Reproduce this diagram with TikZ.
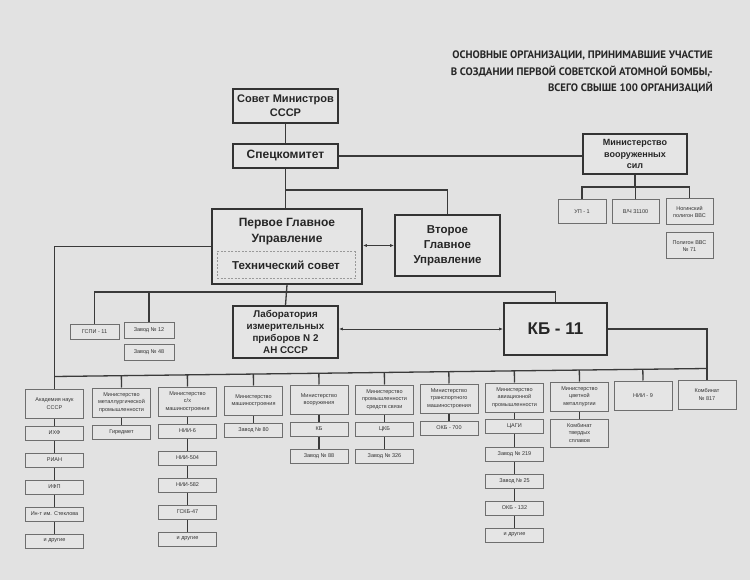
\documentclass[tikz,border=0pt]{standalone}
\usepackage{fontspec}
\setmainfont{Liberation Sans}
\newfontfamily\titlefont{PT Sans}
\usetikzlibrary{arrows.meta,calc}
\definecolor{bg}{HTML}{E2E2E2}
\definecolor{boxfill}{HTML}{E5E5E5}
\definecolor{mainline}{HTML}{333333}
\definecolor{smallline}{HTML}{6E6E6E}
\definecolor{connc}{HTML}{3A3A3A}
\begin{document}
\begin{tikzpicture}[x=1pt,y=-1pt,
  mainbox/.style={draw=mainline, line width=1.6pt, fill=boxfill, align=center, inner sep=0pt, text=black!85},
  smallbox/.style={draw=smallline, line width=1pt, fill=boxfill, align=center, inner sep=0pt,
     font=\fontsize{5.5}{7.5}\selectfont, text=black!80, minimum width=58pt, minimum height=14pt},
  ministry/.style={smallbox, minimum height=29pt},
  conn/.style={draw=connc, line width=1.3pt},
  dbl/.style={draw=connc, line width=0.8pt, {Latex[length=4pt,width=3pt]}-{Latex[length=4pt,width=3pt]}}
]
\fill[bg] (0,0) rectangle (750,580);
\useasboundingbox (0,0) rectangle (750,580);

% title
\node[anchor=north east, align=right, inner sep=0pt, text=black!85,
  font=\titlefont\bfseries\fontsize{10.8}{16.5}\selectfont] (title) at (713,51)
  {ОСНОВНЫЕ ОРГАНИЗАЦИИ, ПРИНИМАВШИЕ УЧАСТИЕ\\В СОЗДАНИИ ПЕРВОЙ СОВЕТСКОЙ АТОМНОЙ БОМБЫ,-\\ВСЕГО СВЫШЕ 100 ОРГАНИЗАЦИЙ};

% top level
\node[mainbox, minimum width=105pt, minimum height=34pt, font=\bfseries\fontsize{11}{14}\selectfont] (sovet) at (285.5,106) {Совет Министров\\СССР};
\node[mainbox, minimum width=105pt, minimum height=24pt, font=\bfseries\fontsize{12}{14}\selectfont] (spec) at (285.5,156) {Спецкомитет};
\node[mainbox, minimum width=150pt, minimum height=75pt] (pgu) at (287,246.5) {};
\node[align=center, inner sep=0pt, text=black!85, font=\bfseries\fontsize{12}{16}\selectfont] (pgutxt) at (287,231.5) {Первое Главное\\Управление};
\node[draw=gray!80, dashed, dash pattern=on 2pt off 1.5pt, line width=1pt, minimum width=138pt, minimum height=27pt, inner sep=0pt, text=black!85,
  font=\bfseries\fontsize{11.5}{14}\selectfont] (tech) at (286,265.5) {Технический совет};
\node[mainbox, minimum width=105pt, minimum height=61pt, font=\bfseries\fontsize{11.5}{15}\selectfont] (vgu) at (447.5,245.5) {Второе\\Главное\\Управление};

% armed forces
\node[mainbox, minimum width=104pt, minimum height=40pt, font=\bfseries\fontsize{9}{11.5}\selectfont] (mvs) at (635,154) {Министерство\\вооруженных\\сил};
\node[smallbox, minimum width=48pt, minimum height=24pt] (up1) at (582,212) {УП - 1};
\node[smallbox, minimum width=47pt, minimum height=24pt] (vch) at (635.5,212) {В/Ч 31100};
\node[smallbox, minimum width=47pt, minimum height=26pt] (nog) at (689.5,212) {Ногинский\\полигон ВВС};
\node[smallbox, minimum width=47pt, minimum height=26pt] (pol) at (689.5,246) {Полигон ВВС\\№ 71};

% middle level
\node[smallbox, minimum width=49pt, minimum height=15pt] (gspi) at (94.5,331.5) {ГСПИ - 11};
\node[smallbox, minimum width=50pt, minimum height=16pt] (z12) at (149,330) {Завод № 12};
\node[smallbox, minimum width=50pt, minimum height=16pt] (z48) at (149,352) {Завод № 48};
\node[mainbox, minimum width=105pt, minimum height=52pt, font=\bfseries\fontsize{9.8}{12}\selectfont] (lab) at (285.5,332) {Лаборатория\\измерительных\\приборов N 2\\АН СССР};
\node[mainbox, minimum width=103pt, minimum height=52pt, font=\bfseries\fontsize{17}{20}\selectfont] (kb11) at (555.5,329) {КБ - 11};

% bottom ministries
\node[ministry] (c1) at (54.5,403.5) {Академия наук\\СССР};
\node[ministry] (c2) at (121.5,402.5) {Министерство\\металлургической\\промышленности};
\node[ministry] (c3) at (187.5,401.5) {Министерство\\с/х\\машиностроения};
\node[ministry] (c4) at (253.5,400.5) {Министерство\\машиностроения};
\node[ministry] (c5) at (319,399.5) {Министерство\\вооружения};
\node[ministry] (c6) at (384.5,399.5) {Министерство\\промышленности\\средств связи};
\node[ministry] (c7) at (449,398.5) {Министерство\\транспортного\\машиностроения};
\node[ministry] (c8) at (514.5,397.5) {Министерство\\авиационной\\промышленности};
\node[ministry] (c9) at (579.5,396.5) {Министерство\\цветной\\металлургии};
\node[ministry] (c10) at (643,395.5) {НИИ - 9};
\node[ministry] (c11) at (707,394.5) {Комбинат\\№ 817};

% sub boxes
\node[smallbox] (c1a) at (54.5,433) {ИХФ};
\node[smallbox] (c1b) at (54.5,460) {РИАН};
\node[smallbox] (c1c) at (54.5,487) {ИФП};
\node[smallbox] (c1d) at (54.5,514) {Ин-т им. Стеклова};
\node[smallbox] (c1e) at (54.5,541) {и другие};
\node[smallbox] (c2a) at (121.5,432) {Гиредмет};
\node[smallbox] (c3a) at (187.5,431) {НИИ-6};
\node[smallbox] (c3b) at (187.5,458) {НИИ-504};
\node[smallbox] (c3c) at (187.5,485) {НИИ-582};
\node[smallbox] (c3d) at (187.5,512) {ГСКБ-47};
\node[smallbox] (c3e) at (187.5,539) {и другие};
\node[smallbox] (c4a) at (253.5,430) {Завод № 80};
\node[smallbox] (c5a) at (319,429) {КБ};
\node[smallbox] (c5b) at (319,456) {Завод № 88};
\node[smallbox] (c6a) at (384.5,429) {ЦКБ};
\node[smallbox] (c6b) at (384.5,456) {Завод № 326};
\node[smallbox] (c7a) at (449,428) {ОКБ - 700};
\node[smallbox] (c8a) at (514.5,426) {ЦАГИ};
\node[smallbox] (c8b) at (514.5,454) {Завод № 219};
\node[smallbox] (c8c) at (514.5,481) {Завод № 25};
\node[smallbox] (c8d) at (514.5,508) {ОКБ - 132};
\node[smallbox] (c8e) at (514.5,535) {и другие};
\node[smallbox, minimum height=28pt] (c9a) at (579.5,433) {Комбинат\\твердых\\сплавов};

% connectors top
\draw[conn] (sovet) -- (spec);
\draw[conn] (spec.south) -- (spec.south |- pgu.north);
\coordinate (br) at (285.5,190);
\draw[conn] (br) -| (vgu.north);
\draw[conn] (spec.east) -- (spec.east -| mvs.west);
\draw[dbl] (pgu.east |- vgu.west) -- (vgu.west);

% armed forces connectors
\coordinate (afbus) at (636,187);
\draw[conn] (mvs.south) -- (mvs.south |- afbus);
\draw[conn] (up1.north) |- (afbus) -| (nog.north);
\draw[conn] (vch.north) -- (vch.north |- afbus);

% middle connectors
\coordinate (mbus) at (286,292);
\draw[conn] (pgu.south) -- (lab.north);
\draw[conn] (gspi.north) |- (mbus) -| (kb11.north);
\draw[conn] (z12.north) -- (z12.north |- mbus);
\draw[dbl] (lab.east |- kb11.west) -- (kb11.west);
\draw[conn] (kb11.east) -| (c11.north);

% bottom bus
\coordinate (busL) at (54.5,376.5);
\coordinate (busR) at (707,368.5);
\draw[conn] (pgu.west) -- (pgu.west -| c1.north) -- (c1.north);
\draw[conn] (busL) -- (busR);
\foreach \c in {c2,c3,c4,c5,c6,c7,c8,c9,c10}
  \draw[conn] ($(busL)!(\c.north)!(busR)$) -- (\c.north);

% sub chains
\draw[conn] (c1) -- (c1a) -- (c1b) -- (c1c) -- (c1d) -- (c1e);
\draw[conn] (c2) -- (c2a);
\draw[conn] (c3) -- (c3a) -- (c3b) -- (c3c) -- (c3d) -- (c3e);
\draw[conn] (c4) -- (c4a);
\draw[conn] (c5) -- (c5a) -- (c5b);
\draw[conn] (c6) -- (c6a) -- (c6b);
\draw[conn] (c7) -- (c7a);
\draw[conn] (c8) -- (c8a) -- (c8b) -- (c8c) -- (c8d) -- (c8e);
\draw[conn] (c9) -- (c9a);
\end{tikzpicture}
\end{document}
